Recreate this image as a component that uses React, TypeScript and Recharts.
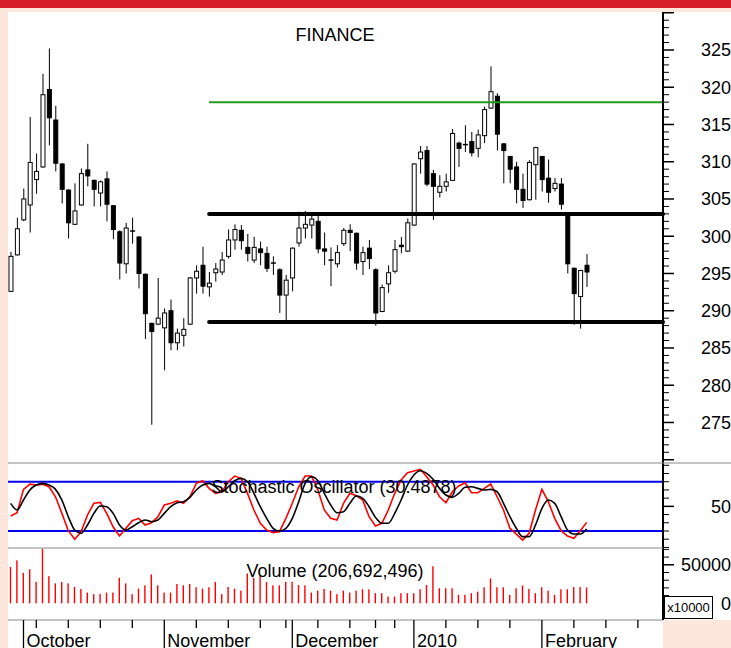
import React from "react";
import { ComposedChart, Bar, Line, XAxis, YAxis, ReferenceLine } from "recharts";

// daily OHLC
const opens = [
  292.6, 297.5, 302.2, 304.2, 307.6, 309.3, 319.7, 315.6, 309.7, 306.2,
  301.6, 304.2, 308.9, 307.5, 305.8, 307.7, 304.1, 300.6, 296.3, 300.7,
  299.9, 294.9, 288.3, 288.2, 287.7, 290.0, 285.7, 286.7, 288.2, 294.4,
  296.1, 293.2, 295.1, 295.2, 297.3, 299.5, 300.8, 298.5, 296.8, 298.3,
  297.7, 296.4, 295.5, 292.1, 294.4, 299.1, 301.1, 301.5, 302.0, 298.3,
  296.8, 296.3, 299.0, 300.8, 300.4, 296.6, 298.4, 295.5, 289.9, 293.6,
  295.3, 298.8, 298.0, 301.5, 310.4, 311.5, 308.4, 305.9, 306.7, 307.5,
  312.5, 312.3, 312.7, 311.8, 313.5, 317.2, 318.8, 312.4, 310.7, 309.3,
  306.3, 304.9, 309.6, 310.7, 307.8, 306.4, 307.0, 302.9, 295.7, 291.9,
  296.1,
];
const highs = [
  297.9, 302.5, 306.4, 316.0, 311.1, 321.8, 325.2, 317.5, 309.8, 306.3,
  307.1, 309.1, 312.4, 307.6, 307.5, 308.7, 304.2, 300.8, 301.8, 302.5,
  300.0, 295.0, 288.4, 294.4, 290.3, 291.5, 287.6, 289.0, 294.5, 296.1,
  298.6, 295.2, 296.4, 297.9, 300.9, 301.6, 301.5, 300.3, 299.9, 299.3,
  298.6, 297.3, 295.7, 294.8, 298.5, 303.3, 303.4, 303.0, 302.9, 300.5,
  298.5, 298.8, 301.1, 301.6, 300.5, 298.6, 299.5, 295.7, 293.5, 296.1,
  299.5, 299.9, 302.4, 309.8, 312.1, 312.1, 308.9, 308.2, 308.4, 314.4,
  312.7, 314.9, 314.0, 314.3, 317.4, 322.8, 319.2, 312.5, 310.8, 310.0,
  308.4, 310.2, 312.0, 310.8, 310.3, 307.8, 307.8, 303.0, 295.8, 295.5,
  297.6,
];
const lows = [
  292.5, 297.4, 302.0, 300.5, 305.7, 309.2, 312.2, 308.7, 304.4, 299.7,
  301.5, 304.1, 306.7, 304.0, 304.0, 302.0, 299.6, 294.2, 295.0, 299.0,
  293.0, 286.2, 274.7, 288.1, 282.0, 284.7, 284.7, 285.2, 288.1, 292.3,
  292.3, 291.9, 293.9, 294.8, 297.0, 298.2, 298.2, 296.6, 296.4, 296.1,
  295.2, 294.8, 289.7, 288.5, 292.6, 298.6, 299.7, 299.7, 297.7, 296.1,
  293.3, 295.8, 298.7, 298.0, 295.5, 294.8, 295.6, 288.0, 289.8, 292.4,
  295.0, 297.7, 297.9, 301.4, 308.4, 306.7, 302.2, 305.2, 306.0, 307.4,
  309.3, 311.3, 310.7, 310.6, 312.5, 317.1, 311.5, 307.1, 307.1, 304.4,
  303.8, 304.8, 304.9, 306.0, 304.5, 306.0, 303.6, 295.0, 288.1, 287.6,
  293.2,
];
const closes = [
  297.3, 301.0, 305.0, 309.9, 308.7, 319.0, 315.9, 309.8, 306.3, 301.8,
  303.4, 308.4, 308.1, 306.3, 307.3, 304.3, 300.9, 296.4, 301.1, 300.6,
  295.0, 289.6, 287.2, 289.0, 289.7, 285.7, 287.0, 287.5, 294.4, 295.3,
  293.3, 293.7, 295.6, 296.8, 299.5, 300.9, 299.4, 297.7, 298.5, 297.8,
  295.7, 296.3, 292.1, 294.1, 298.4, 301.1, 301.6, 302.3, 298.3, 298.0,
  296.7, 297.8, 300.8, 300.5, 296.4, 297.8, 297.0, 289.7, 293.1, 295.1,
  298.2, 298.6, 301.8, 309.7, 311.3, 307.0, 306.7, 306.7, 307.3, 313.8,
  311.8, 312.2, 311.2, 313.6, 317.0, 319.4, 313.7, 311.5, 309.0, 306.3,
  304.8, 309.9, 311.9, 307.6, 305.9, 307.1, 304.3, 296.3, 292.3, 295.4,
  295.2,
];

// stochastic %K (red) and %D (black)
const stochK = [
  38.3, 42.3, 70.7, 77.1, 75.9, 77.0, 73.9, 61.7, 41.5, 20.4,
  9.9, 19.1, 39.5, 53.7, 54.9, 41.5, 25.2, 13.9, 23.2, 32.5,
  35.4, 27.3, 30.1, 37.4, 51.6, 53.7, 56.8, 53.7, 61.7, 78.0,
  81.2, 71.9, 65.9, 67.8, 80.0, 86.9, 84.1, 65.8, 45.6, 29.4,
  21.2, 18.0, 19.2, 35.4, 53.7, 73.9, 86.9, 86.9, 69.9, 45.6,
  35.4, 33.4, 53.7, 65.9, 63.0, 57.7, 37.4, 26.1, 29.4, 45.6,
  65.9, 82.1, 91.0, 93.0, 95.1, 86.1, 76.0, 61.7, 54.4, 67.8,
  74.8, 78.8, 66.6, 66.6, 71.9, 77.2, 61.7, 45.6, 23.3, 16.3,
  9.0, 17.2, 45.6, 70.7, 55.7, 35.4, 20.4, 13.9, 11.1, 20.4,
  30.5,
];
const stochD = [
  53.7, 45.6, 57.7, 69.9, 76.0, 78.0, 76.0, 70.7, 57.7, 37.4,
  21.2, 17.2, 27.3, 41.5, 50.4, 49.6, 41.5, 27.3, 21.2, 25.2,
  30.1, 33.4, 31.3, 33.4, 41.5, 49.6, 54.4, 55.7, 61.0, 69.9,
  76.0, 78.0, 73.9, 67.8, 73.9, 81.2, 84.1, 80.0, 65.9, 49.6,
  35.4, 23.3, 20.0, 23.3, 35.4, 55.7, 78.0, 86.1, 81.2, 65.9,
  51.6, 42.3, 43.5, 53.7, 62.6, 59.8, 49.6, 36.6, 29.4, 29.4,
  41.5, 57.7, 76.0, 88.2, 93.4, 90.2, 82.9, 71.9, 63.8, 61.0,
  65.9, 73.2, 73.9, 71.9, 69.9, 70.7, 67.8, 53.7, 37.4, 23.3,
  13.1, 13.1, 27.3, 47.6, 57.7, 53.7, 37.4, 21.2, 16.3, 16.3,
  22.4,
];

// volume in units of 10,000
const volumes = [
  47200, 55800, 39500, 44200, 27900, 70800, 35300, 25900, 27600, 25900,
  21200, 18600, 13900, 11800, 12200, 13900, 13900, 33100, 25900, 11800,
  19000, 23300, 37400, 23300, 13900, 13900, 25000, 23300, 25000, 20800,
  19000, 20800, 27600, 11800, 21200, 19000, 16400, 38700, 33100, 35300,
  27600, 23300, 23300, 27900, 27900, 23700, 23300, 13900, 16400, 18600,
  16400, 11800, 16400, 13900, 16400, 18200, 18200, 13100, 13100, 8700,
  8700, 13100, 13100, 13100, 18200, 23700, 48100, 19500, 19500, 19500,
  10900, 10900, 13100, 15100, 20800, 32300, 20800, 20800, 10900, 19500,
  23300, 18600, 13100, 20800, 16400, 10900, 18200, 18200, 21000, 21000,
  20669,
];

const monthStarts = [2, 24, 44, 63, 83];
const monthLabels = ["October", "November", "December", "2010", "February"];
const weekTicks = [4, 9, 14, 19, 29, 34, 39, 43, 48, 53, 57, 60, 68, 73, 78, 88, 93, 98];

const upperLevel = 318;
const resistLevel = 303;
const supportLevel = 288.5;
const levelStart = 31;

const priceTicks = Array.from({ length: 61 }, (_, k) => 270 + k);
const stochTicks = [0, 10, 20, 30, 40, 50, 60, 70, 80, 90, 100];
const volTicks = [0, 10000, 20000, 30000, 40000, 50000, 60000, 70000];

const data = opens.map((o, i) => ({
  i,
  o,
  h: highs[i],
  l: lows[i],
  c: closes[i],
  range: [lows[i], highs[i]],
  k: stochK[i],
  d: stochD[i],
  vol: volumes[i],
}));

const FONT = "'Liberation Sans', Arial, sans-serif";
const X_DOMAIN: [number, number] = [-0.42, 101.92];
const MARGIN = { top: 0, right: 0, bottom: 0, left: 8 };

const Candle = (props: any) => {
  const { x, y, width, height, payload } = props;
  const top = Math.min(y, y + height);
  const bot = Math.max(y, y + height);
  const { o, h, l, c } = payload;
  const py = (v: number) => top + ((h - v) / (h - l)) * (bot - top);
  const cx = x + width / 2;
  const bTop = py(Math.max(o, c));
  const bBot = py(Math.min(o, c));
  return (
    <g>
      <line x1={cx} x2={cx} y1={top} y2={bot} stroke="#000" strokeWidth={1} />
      {bBot - bTop < 1.2 ? (
        <line x1={x} x2={x + width} y1={bTop} y2={bTop} stroke="#000" strokeWidth={1.5} />
      ) : (
        <rect x={x + 0.5} y={bTop} width={width - 1} height={bBot - bTop}
          fill={c >= o ? "#fff" : "#000"} stroke="#000" strokeWidth={1} />
      )}
    </g>
  );
};

const VolBar = (props: any) => {
  const { x, y, width, height } = props;
  return <rect x={x + width / 2 - 0.7} y={y} width={1.4} height={height} fill="#ff0000" />;
};

const PriceTick = (props: any) => {
  const { x, y, payload } = props;
  const v = payload.value;
  const major = v % 5 === 0;
  return (
    <g>
      <line x1={x} x2={x + (major ? 11 : 6)} y1={y} y2={y} stroke="#000" strokeWidth={major ? 1.5 : 1} />
      {major && v > 270 && v < 330 && (
        <text x={731} y={y} dy="0.36em" textAnchor="end" fontSize={18} fontFamily={FONT} fill="#000">{v}</text>
      )}
    </g>
  );
};

const StochTick = (props: any) => {
  const { x, y, payload } = props;
  const major = payload.value === 50;
  return (
    <g>
      <line x1={x} x2={x + (major ? 11 : 6)} y1={y} y2={y} stroke="#000" strokeWidth={major ? 1.5 : 1} />
      {major && (
        <text x={731} y={y} dy="0.36em" textAnchor="end" fontSize={18} fontFamily={FONT} fill="#000">50</text>
      )}
    </g>
  );
};

const VolTick = (props: any) => {
  const { x, y, payload } = props;
  const v = payload.value;
  const major = v === 0 || v === 50000;
  return (
    <g>
      <line x1={x} x2={x + (major ? 11 : 6)} y1={y} y2={y} stroke="#000" strokeWidth={major ? 1.5 : 1} />
      {major && (
        <text x={731} y={y} dy="0.36em" textAnchor="end" fontSize={18} fontFamily={FONT} fill="#000">{v}</text>
      )}
    </g>
  );
};

const DateTick = (props: any) => {
  const { x, y, payload } = props;
  const idx = monthStarts.indexOf(payload.value);
  if (idx >= 0) {
    return (
      <g>
        <line x1={x} x2={x} y1={y} y2={y + 28} stroke="#000" strokeWidth={1.3} />
        <text x={x + 3} y={y + 26.5} fontSize={18} fontFamily={FONT} fill="#000">{monthLabels[idx]}</text>
      </g>
    );
  }
  return <line x1={x} x2={x} y1={y} y2={y + 8} stroke="#000" strokeWidth={1.3} />;
};

const yAxisCommon = {
  orientation: "right" as const,
  width: 68,
  type: "number" as const,
  allowDataOverflow: true,
  interval: 0 as const,
  tickLine: false,
  tickSize: 0,
  tickMargin: 0,
  axisLine: { stroke: "#000", strokeWidth: 2 },
};

export default function App() {
  return (
    <div style={{ position: "absolute", left: 0, top: 0, width: 731, height: 648, background: "#fde6dc", overflow: "hidden" }}>
      <div style={{ position: "absolute", left: 0, top: 0, width: 731, height: 8, background: "#d71f27" }} />
      <div style={{ position: "absolute", left: 8, top: 12, width: 723, height: 608, background: "#fff" }} />
      <div style={{ position: "absolute", left: 8, top: 620, width: 655, height: 28, background: "#fff" }} />

      <div style={{ position: "absolute", left: 0, top: 12 }}>
        <ComposedChart width={731} height={451} data={data} margin={MARGIN}>
          <XAxis type="number" dataKey="i" domain={X_DOMAIN} allowDataOverflow hide />
          <YAxis {...yAxisCommon} domain={[269.56, 330.1]} ticks={priceTicks} tick={<PriceTick />} />
          <ReferenceLine segment={[{ x: levelStart, y: upperLevel }, { x: X_DOMAIN[1], y: upperLevel }]}
            stroke="#1e9b1e" strokeWidth={2} />
          <ReferenceLine segment={[{ x: levelStart, y: resistLevel }, { x: X_DOMAIN[1], y: resistLevel }]}
            stroke="#000" strokeWidth={4} strokeLinecap="round" />
          <ReferenceLine segment={[{ x: levelStart, y: supportLevel }, { x: X_DOMAIN[1], y: supportLevel }]}
            stroke="#000" strokeWidth={4} strokeLinecap="round" />
          <Bar dataKey="range" barSize={5} shape={<Candle />} isAnimationActive={false} />
        </ComposedChart>
      </div>

      <div style={{ position: "absolute", left: 0, top: 463 }}>
        <ComposedChart width={731} height={85} data={data} margin={MARGIN}>
          <XAxis type="number" dataKey="i" domain={X_DOMAIN} allowDataOverflow hide />
          <YAxis {...yAxisCommon} domain={[-0.7, 102.8]} ticks={stochTicks} tick={<StochTick />} />
          <ReferenceLine y={80} stroke="#0000ee" strokeWidth={2} />
          <ReferenceLine y={20} stroke="#0000ee" strokeWidth={2} />
          <Line dataKey="k" type="linear" stroke="#ff0000" strokeWidth={1.6} dot={false} isAnimationActive={false} />
          <Line dataKey="d" type="monotone" stroke="#000" strokeWidth={1.6} dot={false} isAnimationActive={false} />
        </ComposedChart>
      </div>

      <div style={{ position: "absolute", left: 0, top: 548 }}>
        <ComposedChart width={731} height={100} data={data} margin={MARGIN}>
          <XAxis type="number" dataKey="i" domain={X_DOMAIN} allowDataOverflow height={28}
            ticks={[...monthStarts, ...weekTicks]} interval={0} tick={<DateTick />}
            tickLine={false} tickSize={0} tickMargin={0} axisLine={{ stroke: "#888" }} />
          <YAxis {...yAxisCommon} domain={[-21700, 71800]} ticks={volTicks} tick={<VolTick />} />
          <Bar dataKey="vol" barSize={2} shape={<VolBar />} isAnimationActive={false} />
        </ComposedChart>
      </div>

      <svg width={731} height={648} style={{ position: "absolute", left: 0, top: 0, pointerEvents: "none" }}>
        <line x1={8} x2={731} y1={463} y2={463} stroke="#888" strokeWidth={1} />
        <line x1={8} x2={663} y1={548} y2={548} stroke="#888" strokeWidth={1} />
        <text x={335} y={41} textAnchor="middle" fontSize={18} fontFamily={FONT} fill="#000">FINANCE</text>
        <text x={334} y={493} textAnchor="middle" fontSize={18} fontFamily={FONT} fill="#000">Stochastic Oscillator (30.4878)</text>
        <text x={335} y={577} textAnchor="middle" fontSize={18} fontFamily={FONT} fill="#000">Volume (206,692,496)</text>
        <rect x={664.5} y={596.5} width={48} height={22} fill="#fff" stroke="#000" strokeWidth={1} />
        <text x={688.5} y={612} textAnchor="middle" fontSize={13} fontFamily={FONT} fill="#000">x10000</text>
      </svg>
    </div>
  );
}
